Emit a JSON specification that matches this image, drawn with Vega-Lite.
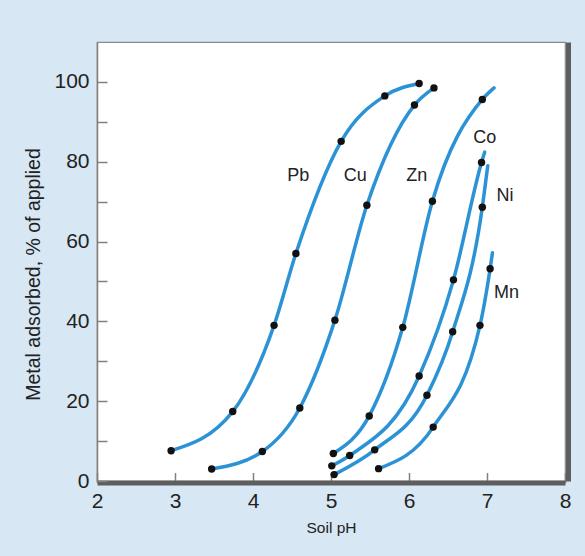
{
  "$schema": "https://vega.github.io/schema/vega-lite/v6.json",
  "width": 468,
  "height": 439,
  "autosize": "none",
  "padding": {"left": 97, "top": 42, "right": 20, "bottom": 75},
  "background": "#d7e7f3",
  "config": {
    "view": {"fill": "white", "stroke": "#8a8a8a", "strokeWidth": 1.2},
    "font": "Liberation Sans"
  },
  "data": {
    "values": [
      {"metal": "Pb", "pH": 2.95, "pct": 7.6, "dot": true},
      {"metal": "Pb", "pH": 3.74, "pct": 17.4, "dot": true},
      {"metal": "Pb", "pH": 4.27, "pct": 39.0, "dot": true},
      {"metal": "Pb", "pH": 4.55, "pct": 57.0, "dot": true},
      {"metal": "Pb", "pH": 5.13, "pct": 85.1, "dot": true},
      {"metal": "Pb", "pH": 5.69, "pct": 96.5, "dot": true},
      {"metal": "Pb", "pH": 6.13, "pct": 99.6, "dot": true},
      {"metal": "Cu", "pH": 3.47, "pct": 3.0, "dot": true},
      {"metal": "Cu", "pH": 4.12, "pct": 7.4, "dot": true},
      {"metal": "Cu", "pH": 4.6, "pct": 18.3, "dot": true},
      {"metal": "Cu", "pH": 5.05, "pct": 40.3, "dot": true},
      {"metal": "Cu", "pH": 5.46, "pct": 69.1, "dot": true},
      {"metal": "Cu", "pH": 6.07, "pct": 94.2, "dot": true},
      {"metal": "Cu", "pH": 6.32, "pct": 98.5, "dot": true},
      {"metal": "Zn", "pH": 5.03, "pct": 6.9, "dot": true},
      {"metal": "Zn", "pH": 5.49, "pct": 16.3, "dot": true},
      {"metal": "Zn", "pH": 5.92, "pct": 38.5, "dot": true},
      {"metal": "Zn", "pH": 6.3, "pct": 70.1, "dot": true},
      {"metal": "Zn", "pH": 6.94, "pct": 95.6, "dot": true},
      {"metal": "Zn", "pH": 7.09, "pct": 98.5, "dot": false},
      {"metal": "Co", "pH": 5.01, "pct": 3.8, "dot": true},
      {"metal": "Co", "pH": 5.24, "pct": 6.4, "dot": true},
      {"metal": "Co", "pH": 6.13, "pct": 26.3, "dot": true},
      {"metal": "Co", "pH": 6.57, "pct": 50.4, "dot": true},
      {"metal": "Co", "pH": 6.93, "pct": 79.8, "dot": true},
      {"metal": "Co", "pH": 6.97, "pct": 82.4, "dot": false},
      {"metal": "Ni", "pH": 5.04, "pct": 1.6, "dot": true},
      {"metal": "Ni", "pH": 5.56, "pct": 7.8, "dot": true},
      {"metal": "Ni", "pH": 6.23, "pct": 21.5, "dot": true},
      {"metal": "Ni", "pH": 6.56, "pct": 37.4, "dot": true},
      {"metal": "Ni", "pH": 6.94, "pct": 68.6, "dot": true},
      {"metal": "Ni", "pH": 7.01, "pct": 79.0, "dot": false},
      {"metal": "Mn", "pH": 5.61, "pct": 3.1, "dot": true},
      {"metal": "Mn", "pH": 6.31, "pct": 13.5, "dot": true},
      {"metal": "Mn", "pH": 6.91, "pct": 39.0, "dot": true},
      {"metal": "Mn", "pH": 7.04, "pct": 53.2, "dot": true},
      {"metal": "Mn", "pH": 7.07, "pct": 57.2, "dot": false}
    ]
  },
  "resolve": {"axis": {"y": "independent"}},
  "layer": [
    {
      "mark": {"type": "line", "interpolate": "monotone", "color": "#2b93d5", "strokeWidth": 3.5, "strokeCap": "round"},
      "encoding": {
        "x": {
          "field": "pH", "type": "quantitative",
          "scale": {"domain": [2, 8], "nice": false, "zero": false},
          "axis": {
            "title": "Soil pH", "values": [2, 3, 4, 5, 6, 7, 8], "format": "d",
            "grid": false, "offset": 1.5,
            "domainColor": "#5e5e5e", "domainWidth": 5,
            "tickColor": "#808080", "tickWidth": 1.5, "tickSize": -10,
            "labelPadding": 18, "labelFontSize": 21, "labelColor": "#222",
            "labelFlush": false,
            "titleFontSize": 15.5, "titleFontWeight": "normal", "titleColor": "#222",
            "titleBaseline": "middle", "titleY": 45
          }
        },
        "y": {
          "field": "pct", "type": "quantitative",
          "scale": {"domain": [0, 110], "nice": false},
          "axis": {
            "title": "Metal adsorbed, % of applied",
            "values": [0, 10, 20, 30, 40, 50, 60, 70, 80, 90, 100],
            "labelExpr": "datum.value % 20 === 0 ? datum.label : ''",
            "grid": false,
            "domainColor": "#808080", "domainWidth": 1.5,
            "tickColor": "#808080", "tickWidth": 1.5, "tickSize": -10,
            "labelPadding": 18, "labelFontSize": 21, "labelColor": "#222",
            "labelFlush": false,
            "titleFontSize": 19.5, "titleFontWeight": "normal", "titleColor": "#222",
            "titleAngle": -90, "titleBaseline": "middle", "titleAlign": "center",
            "titleX": -64, "titleY": 232
          }
        },
        "detail": {"field": "metal"},
        "order": {"field": "pH"}
      }
    },
    {
      "transform": [{"filter": "datum.dot"}],
      "mark": {"type": "point", "filled": true, "color": "#111", "size": 55, "opacity": 1},
      "encoding": {
        "x": {"field": "pH", "type": "quantitative"},
        "y": {
          "field": "pct", "type": "quantitative",
          "axis": {
            "orient": "right", "title": null, "labels": false, "ticks": false,
            "grid": false, "offset": 3, "domainColor": "#5e5e5e", "domainWidth": 5
          }
        }
      }
    },
    {
      "data": {
        "values": [
          {"label": "Pb", "pH": 4.58, "pct": 76.5},
          {"label": "Cu", "pH": 5.31, "pct": 76.5},
          {"label": "Zn", "pH": 6.1, "pct": 76.5},
          {"label": "Co", "pH": 6.97, "pct": 86.0},
          {"label": "Ni", "pH": 7.23, "pct": 71.5},
          {"label": "Mn", "pH": 7.25, "pct": 47.0}
        ]
      },
      "mark": {"type": "text", "fontSize": 18, "color": "#222", "align": "center", "baseline": "middle"},
      "encoding": {
        "x": {"field": "pH", "type": "quantitative"},
        "y": {"field": "pct", "type": "quantitative", "axis": null},
        "text": {"field": "label"}
      }
    }
  ]
}
